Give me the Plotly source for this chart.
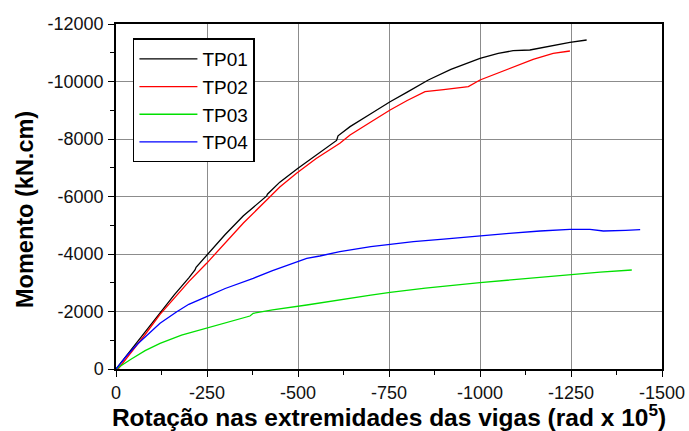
import plotly.graph_objects as go

# Data (rotation in rad x 10^5, moment in kN.cm)
tp01_x = [0, -30, -60, -90, -121, -160, -200, -217, -220, -249, -300, -350, -400, -414, -416, -450, -500, -550, -600, -606, -610, -643, -700, -753, -800, -858, -920, -1000, -1050, -1091, -1137, -1190, -1247, -1293]
tp01_y = [0, -480, -960, -1450, -1937, -2580, -3170, -3443, -3537, -3965, -4680, -5330, -5870, -6020, -6080, -6500, -6980, -7440, -7880, -7950, -8110, -8430, -8880, -9297, -9630, -10052, -10420, -10806, -10980, -11072, -11096, -11220, -11363, -11443]

tp02_x = [-6, -40, -80, -121, -160, -200, -249, -300, -350, -414, -450, -496, -550, -615, -643, -700, -753, -800, -849, -900, -968, -1000, -1050, -1091, -1146, -1201, -1247]
tp02_y = [0, -540, -1200, -1900, -2470, -3040, -3676, -4380, -5080, -5878, -6330, -6806, -7320, -7850, -8139, -8590, -9009, -9340, -9646, -9720, -9820, -10052, -10300, -10516, -10771, -10979, -11061]

tp03_x = [0, -20, -40, -80, -121, -180, -249, -300, -368, -377, -430, -524, -560, -643, -700, -753, -850, -1000, -1100, -1247, -1330, -1417]
tp03_y = [0, -170, -330, -640, -893, -1180, -1415, -1610, -1843, -1937, -2060, -2226, -2300, -2458, -2570, -2667, -2810, -3003, -3120, -3293, -3370, -3443]

tp04_x = [0, -30, -60, -75, -100, -121, -167, -200, -249, -300, -377, -430, -524, -560, -615, -643, -700, -753, -817, -900, -1000, -1080, -1165, -1247, -1302, -1339, -1400, -1440]
tp04_y = [0, -470, -880, -1050, -1360, -1589, -1993, -2250, -2516, -2800, -3154, -3420, -3850, -3930, -4081, -4139, -4260, -4336, -4429, -4520, -4638, -4720, -4800, -4858, -4858, -4800, -4825, -4846]

series = [
    ("TP01", tp01_x, tp01_y, "#000000"),
    ("TP02", tp02_x, tp02_y, "#ff0000"),
    ("TP03", tp03_x, tp03_y, "#00e000"),
    ("TP04", tp04_x, tp04_y, "#0000ff"),
]

x_ticks = [0, -250, -500, -750, -1000, -1250, -1500]
y_ticks = [0, -2000, -4000, -6000, -8000, -10000, -12000]

fig = go.Figure()
for name, xs, ys, col in series:
    fig.add_trace(go.Scatter(x=xs, y=ys, mode="lines", name=name,
                             line=dict(color=col, width=1.3)))

axis_common = dict(
    automargin=False,
    showline=True, linecolor="black", linewidth=1.5, mirror=True,
    showgrid=True, gridcolor="#8c8c8c", gridwidth=1.2,
    zeroline=False, ticks="outside", ticklen=6, tickwidth=1.2, tickcolor="black",
    tickfont=dict(family="Liberation Sans, Arial, sans-serif", size=18, color="#111111"),
)

fig.update_layout(
    width=689, height=431,
    margin=dict(l=116, r=27, t=24, b=62),
    paper_bgcolor="white", plot_bgcolor="white",
    font=dict(family="Liberation Sans, Arial, sans-serif", color="black"),
    showlegend=True,
    legend=dict(
        x=0.031, y=0.958, xanchor="left", yanchor="top",
        bgcolor="white", bordercolor="black", borderwidth=1.5,
        font=dict(size=19, color="black"),
        itemwidth=58,
    ),
    hovermode=False,
    annotations=[dict(
        text="<b>Momento (kN.cm)</b>", textangle=-90,
        xref="paper", yref="paper", x=-0.1667, y=0.4638,
        xanchor="center", yanchor="middle", showarrow=False,
        font=dict(size=23.5, color="black"),
    )],
)

fig.update_xaxes(
    range=[0, -1500], tickvals=x_ticks, ticktext=[str(v) for v in x_ticks],
    ticklabelstandoff=1,
    minor=dict(ticks="outside", ticklen=4, tickwidth=1.2, tickcolor="black", dtick=125, tick0=0, showgrid=False),
    title=dict(text="<b>Rotação nas extremidades das vigas (rad x 10<sup>5</sup>)</b>",
               font=dict(size=24.5, color="black")),
    **axis_common,
)
fig.update_yaxes(
    range=[0, -12000], tickvals=y_ticks, ticktext=[str(v) for v in y_ticks],
    ticklabelstandoff=1,
    minor=dict(ticks="outside", ticklen=4, tickwidth=1.2, tickcolor="black", dtick=1000, tick0=0, showgrid=False),
    **axis_common,
)

fig.write_html("out.html", config={"displayModeBar": False},
               post_script="document.body.style.margin='0';document.body.style.overflow='hidden';")
